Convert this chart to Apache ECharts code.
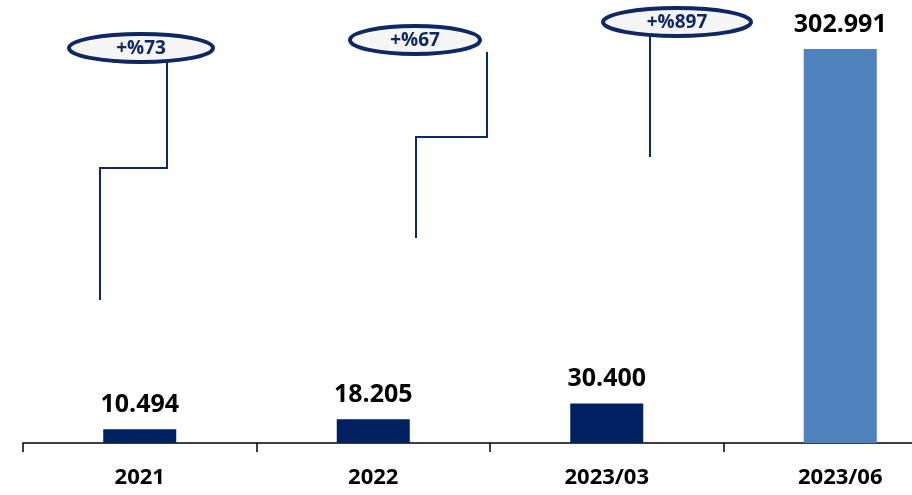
<!DOCTYPE html>
<html><head><meta charset="utf-8">
<script src="https://cdn.jsdelivr.net/npm/echarts@6/dist/echarts.min.js"></script>
<style>html,body{margin:0;padding:0;background:#fff;overflow:hidden;width:912px;height:495px}#c{width:960px;height:495px}</style>
</head><body><div id="c"></div>
<script>
const categories = ['2021', '2022', '2023/03', '2023/06'];
const values = [10494, 18205, 30400, 302991];
const growthLabels = ['+%73', '+%67', '+%897'];

const NAVY = '#002060';
const LIGHT = '#4F81BD';
const LINE = '#0F2862';

function fmt(v) {
  return String(v).replace(/\B(?=(\d{3})+(?!\d))/g, '.');
}

const chart = echarts.init(document.getElementById('c'));
const font = '"Open Sans", sans-serif';

function ellipse(cx, cy, rx, ry, text) {
  return [{
    type: 'ellipse', shape: {cx, cy, rx, ry},
    style: {fill: '#f5f5f5', stroke: LINE, lineWidth: 4}, z: 10
  }, {
    type: 'text', x: cx, y: cy + 1, z: 11,
    style: {text, fill: LINE, fontWeight: 'bold', fontSize: 19, fontFamily: font, align: 'center', verticalAlign: 'middle'}
  }];
}
function poly(points) {
  return {type: 'polyline', shape: {points}, style: {stroke: LINE, lineWidth: 2, fill: null}, z: 5};
}

chart.setOption({
  animation: false,
  grid: {left: 23, right: 3, top: 40, bottom: 52},
  xAxis: {
    type: 'category', data: categories,
    axisLine: {lineStyle: {color: '#000', width: 1.5}},
    axisTick: {show: true, length: 9, lineStyle: {color: '#000', width: 1.5}},
    axisLabel: {color: '#000', fontWeight: 'bold', fontSize: 22, fontFamily: font, margin: 24}
  },
  yAxis: {type: 'value', min: 0, max: 310000, show: false, splitLine: {show: false}},
  series: [{
    type: 'bar', barWidth: 73,
    data: values.map((v, i) => ({value: v, itemStyle: {color: i === values.length - 1 ? LIGHT : NAVY}})),
    label: {
      show: true, position: 'top', distance: 12,
      formatter: p => fmt(p.value),
      color: '#000', fontWeight: 'bold', fontSize: 25, fontFamily: font
    }
  }],
  graphic: [
    poly([[100, 300], [100, 168], [167, 168], [167, 62]]),
    poly([[416, 238], [416, 137], [487, 137], [487, 52]]),
    poly([[650, 157], [650, 34]]),
    ...ellipse(141, 48, 72, 14, growthLabels[0]),
    ...ellipse(415, 40, 65, 14, growthLabels[1]),
    ...ellipse(677, 22, 74, 14, growthLabels[2])
  ]
});
</script></body></html>
